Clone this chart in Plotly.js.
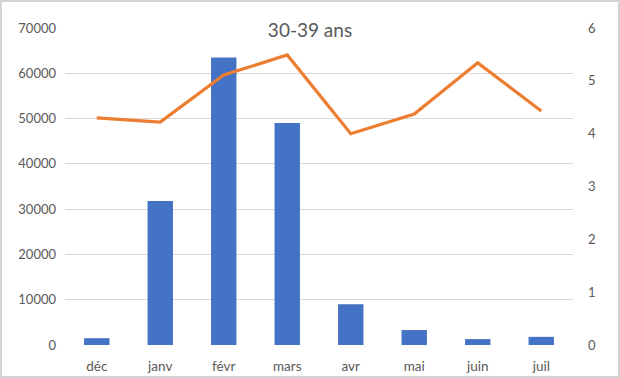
<!DOCTYPE html>
<html>
<head>
<meta charset="utf-8">
<script src="https://cdn.plot.ly/plotly-3.0.1.min.js"></script>
<style>
html,body{margin:0;padding:0;background:#fff;}
#chart{width:620px;height:378px;box-sizing:border-box;border:2px solid #d4d4d4;}
</style>
</head>
<body>
<div id="chart"></div>
<script>
const categories = ["déc", "janv", "févr", "mars", "avr", "mai", "juin", "juil"];
const barValues = [1500, 31800, 63500, 49000, 9000, 3300, 1300, 1800];
const lineValues = [4.30, 4.22, 5.11, 5.49, 4.00, 4.37, 5.34, 4.43];
const leftTicks = [0, 10000, 20000, 30000, 40000, 50000, 60000, 70000];
const rightTicks = [0, 1, 2, 3, 4, 5, 6];
const titleText = "30-39 ans";

const font = {family: "Lato, 'Open Sans', sans-serif", size: 13, color: "#595959"};

const data = [
  {type: "bar", x: categories, y: barValues, marker: {color: "#4472C4"}, width: 0.4, yaxis: "y", hoverinfo: "x+y"},
  {type: "scatter", mode: "lines", x: categories, y: lineValues, line: {color: "#ED7D31", width: 3.2}, yaxis: "y2"}
];

const layout = {
  width: 616, height: 374,
  margin: {l: 63, r: 45, t: 26, b: 31},
  paper_bgcolor: "#fff", plot_bgcolor: "#fff",
  showlegend: false,
  font: font,
  title: {text: titleText, font: {family: font.family, size: 19, color: "#595959"}, x: 0.5, xref: "container", y: 0.925, yref: "container", yanchor: "middle"},
  xaxis: {type: "category", showgrid: false, zeroline: false, showline: false, ticks: "", tickfont: {family: font.family, size: 13.5, color: "#595959"}, ticklabelstandoff: 11, fixedrange: true},
  yaxis: {range: [0, 70000], tickvals: leftTicks, ticktext: leftTicks.map(String), showgrid: true, gridcolor: "#D9D9D9", gridwidth: 1, zeroline: false, showline: false, ticks: "", tickfont: font, ticklabelstandoff: 8},
  yaxis2: {range: [0, 6], tickvals: rightTicks, overlaying: "y", side: "right", showgrid: false, zeroline: false, showline: false, ticks: "", tickfont: font, ticklabelstandoff: 14}
};

Plotly.newPlot("chart", data, layout, {displayModeBar: false, staticPlot: true});
</script>
</body>
</html>
